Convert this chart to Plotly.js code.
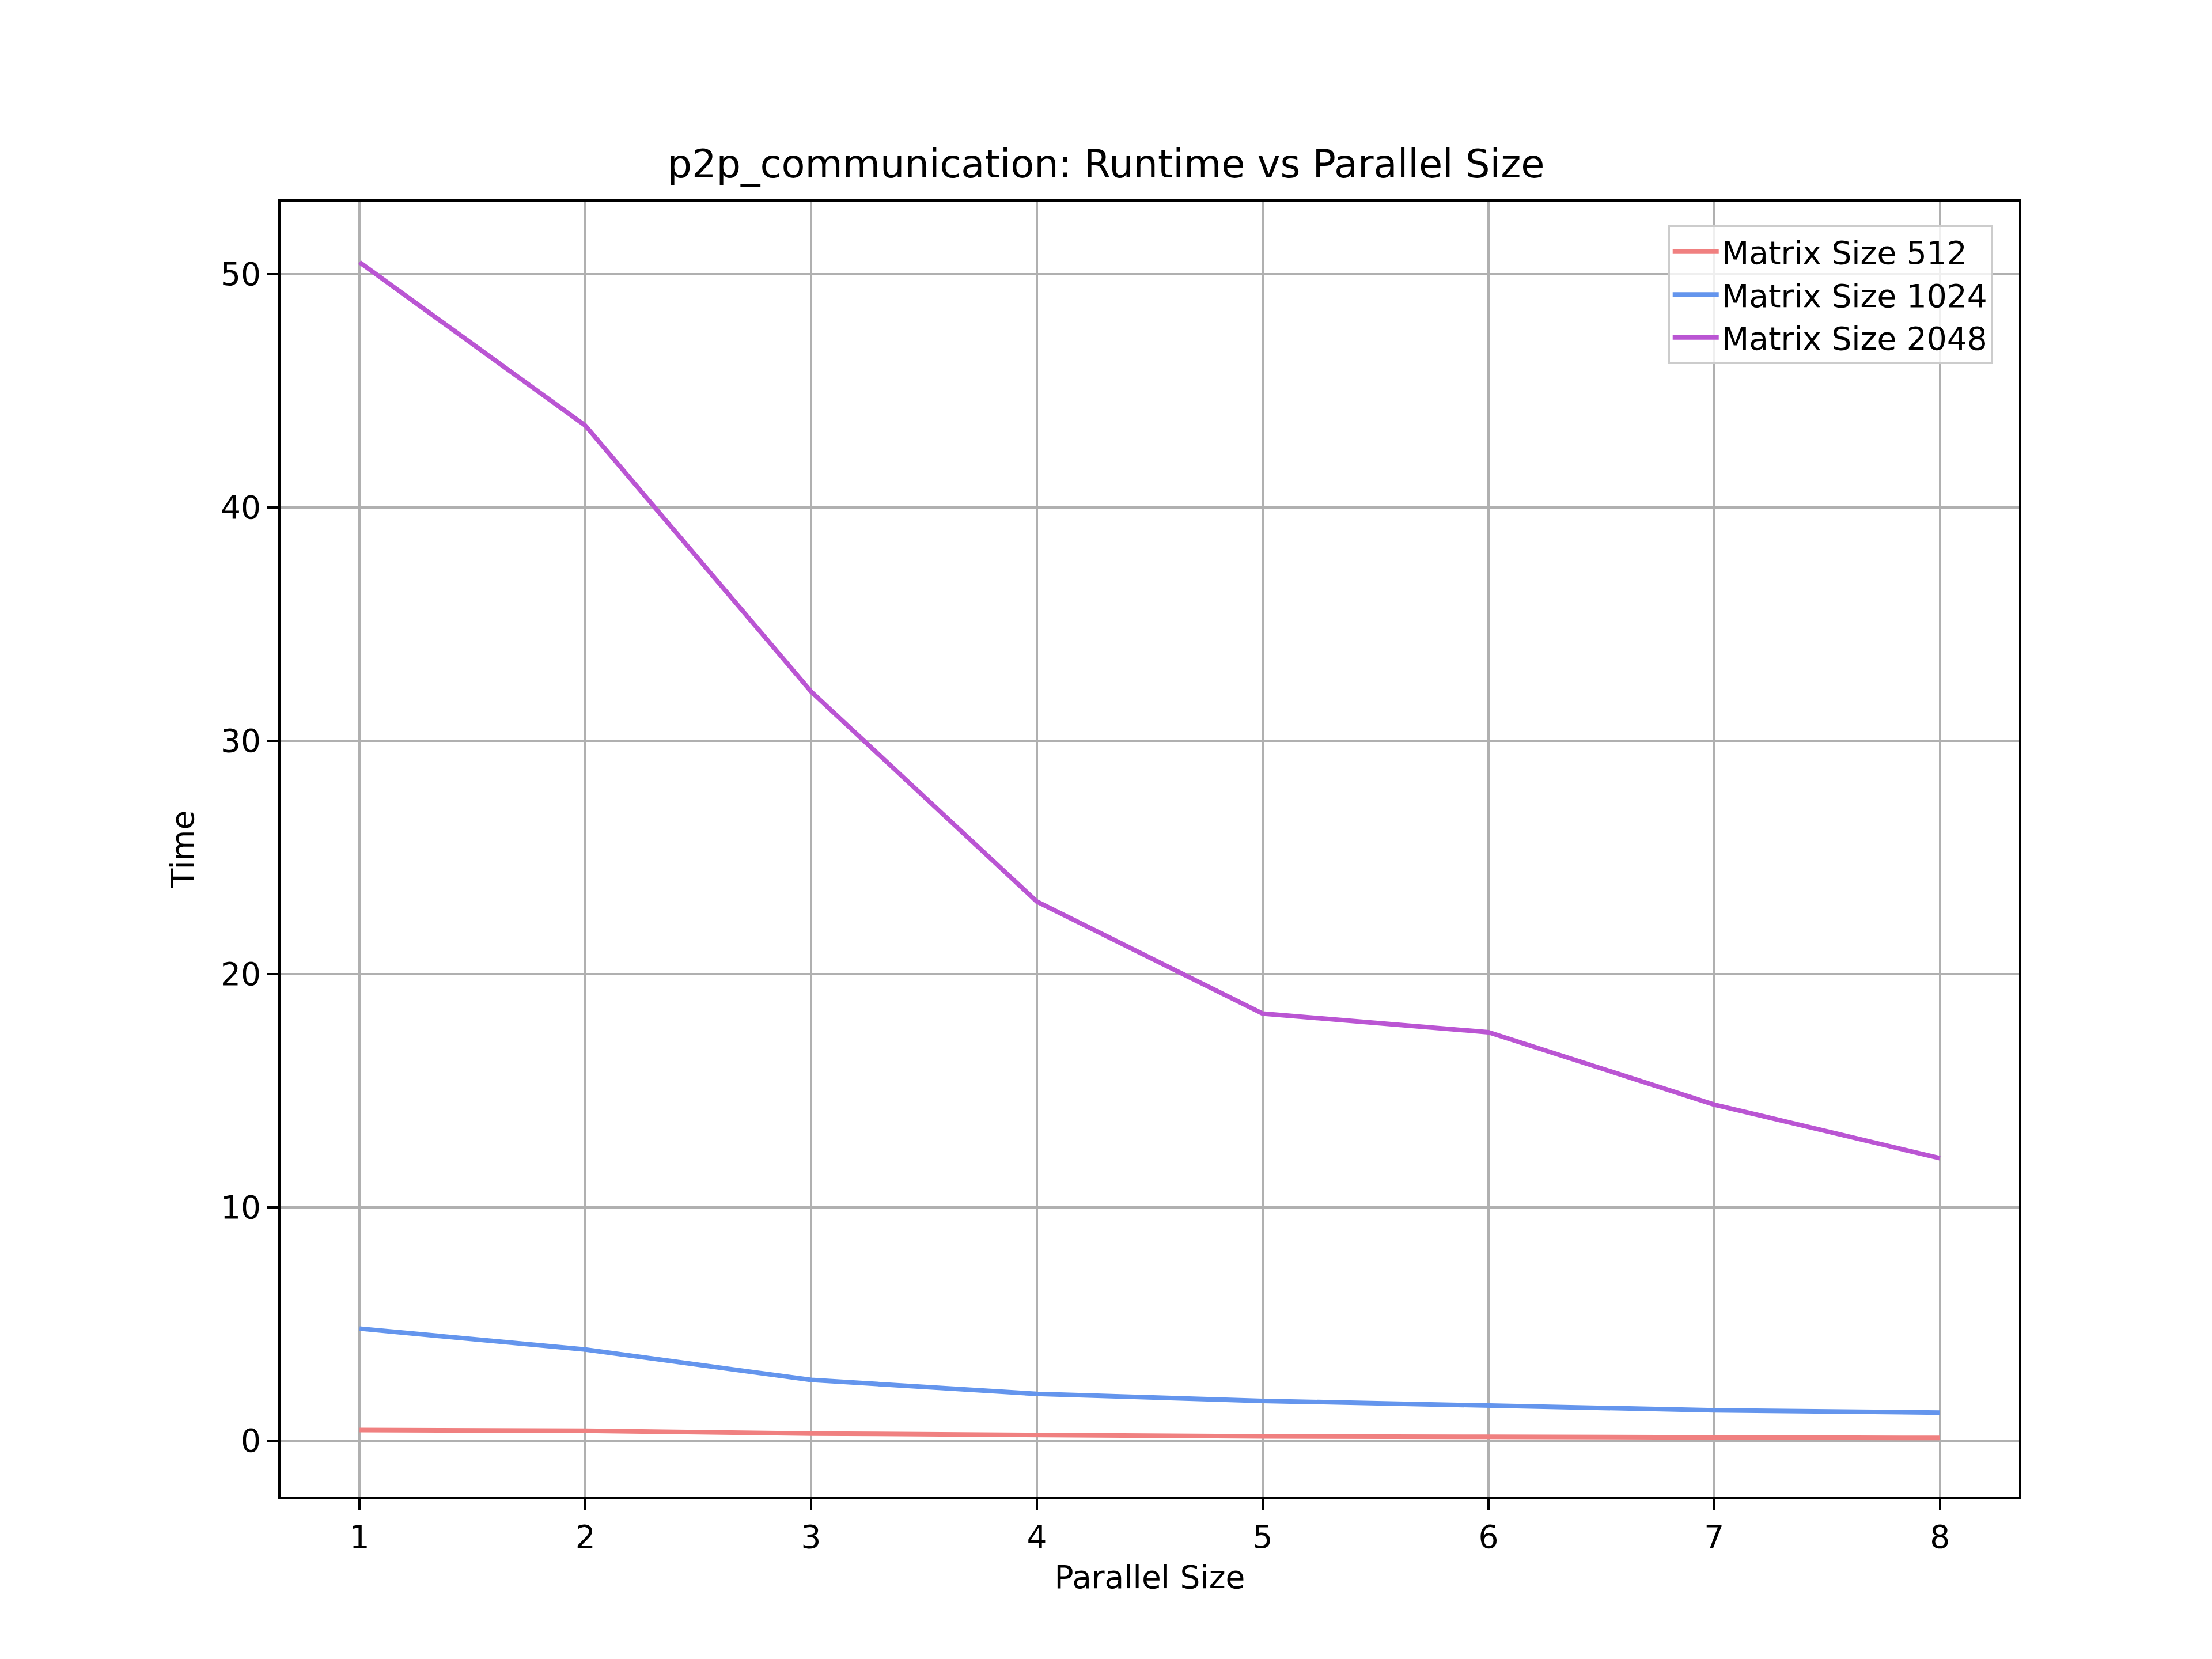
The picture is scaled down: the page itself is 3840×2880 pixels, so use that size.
<!DOCTYPE html>
<html>
<head>
<script src="https://cdn.plot.ly/plotly-3.0.1.min.js"></script>
<style>body{margin:0;background:#fff}</style>
</head>
<body>
<div id="chart" style="width:3840px;height:2880px"></div>
<script>
var parallelSize = [1, 2, 3, 4, 5, 6, 7, 8];
var size512 = [0.45, 0.42, 0.3, 0.22, 0.18, 0.16, 0.13, 0.11];
var size1024 = [4.8, 3.9, 2.6, 2.0, 1.7, 1.5, 1.3, 1.2];
var size2048 = [50.5, 43.5, 32.1, 23.1, 18.3, 17.5, 14.4, 12.1];

function series(name, y, color) {
    return { x: parallelSize, y: y, name: name, type: 'scatter', mode: 'lines',
             line: { color: color, width: 8 } };
}

var data = [
    series('Matrix Size 512', size512, '#F08080'),
    series('Matrix Size 1024', size1024, '#6495ED'),
    series('Matrix Size 2048', size2048, '#BA55D3')
];

var axisStyle = {
    showgrid: true, gridcolor: '#b0b0b0', gridwidth: 4,
    showline: true, linecolor: '#000', linewidth: 4, mirror: true,
    ticks: 'outside', ticklen: 19, tickwidth: 4, tickcolor: '#000',
    zeroline: false, tickfont: { size: 55, color: '#000' }
};

var layout = {
    width: 3840, height: 2880,
    font: { family: 'DejaVu Sans', color: '#000' },
    paper_bgcolor: '#fff', plot_bgcolor: '#fff',
    margin: { l: 487, r: 335, t: 350, b: 282 },
    title: { text: 'p2p_communication: Runtime vs Parallel Size', font: { size: 67 },
             x: 0.5, xanchor: 'center', y: 0.893, yanchor: 'bottom' },
    xaxis: Object.assign({}, axisStyle, { range: [0.65, 8.35], dtick: 1,
             title: { text: 'Parallel Size', font: { size: 55 }, standoff: 20 } }),
    yaxis: Object.assign({}, axisStyle, { range: [-2.4, 53.1], dtick: 10,
             title: { text: 'Time', font: { size: 55 }, standoff: 30 } }),
    legend: { x: 0.985, xanchor: 'right', y: 0.982, yanchor: 'top',
              bgcolor: 'rgba(255,255,255,0.8)', bordercolor: '#cccccc', borderwidth: 4,
              font: { size: 55 }, itemwidth: 80, tracegroupgap: 10 },
    showlegend: true
};

Plotly.newPlot('chart', data, layout, { staticPlot: true });
</script>
</body>
</html>
